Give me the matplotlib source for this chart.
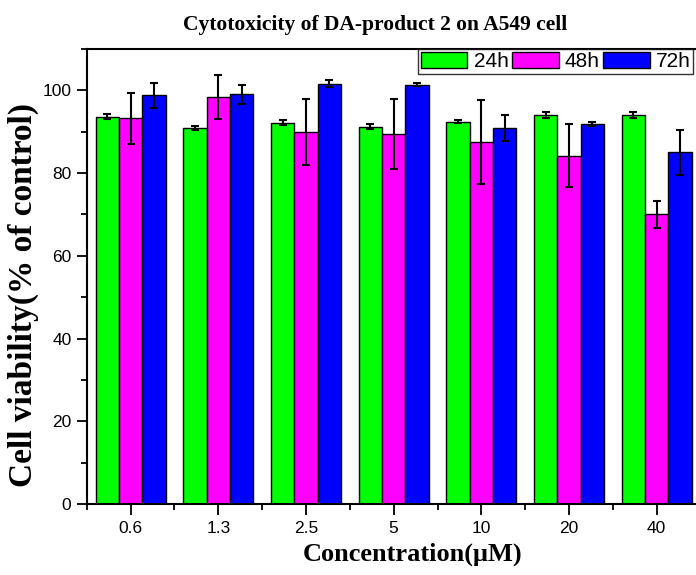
import matplotlib
matplotlib.use("Agg")
import matplotlib.pyplot as plt
import numpy as np
from matplotlib.ticker import MultipleLocator, FixedLocator

categories = ["0.6", "1.3", "2.5", "5", "10", "20", "40"]
series_names = ["24h", "48h", "72h"]
v24 = [93.6, 90.9, 92.2, 91.2, 92.4, 94.1, 94.1]
e24 = [0.6, 0.4, 0.6, 0.6, 0.4, 0.7, 0.7]
v48 = [93.2, 98.4, 89.9, 89.4, 87.5, 84.2, 70.0]
e48 = [6.1, 5.4, 7.9, 8.4, 10.2, 7.6, 3.2]
v72 = [98.8, 99.0, 101.6, 101.4, 90.9, 91.8, 85.0]
e72 = [3.0, 2.3, 0.9, 0.4, 3.1, 0.5, 5.4]
colors = ["#00ff00", "#ff00ff", "#0000ff"]

plt.rcParams['font.family'] = ['Liberation Sans', 'DejaVu Sans']

fig = plt.figure(figsize=(6.96, 5.75), dpi=100)
ax = fig.add_axes([0.1246, 0.1235, 0.882, 0.7913])

x = np.arange(len(categories))
w = 0.266
vals = [v24, v48, v72]
errs = [e24, e48, e72]
for i in range(3):
    ax.bar(x + (i - 1) * w, vals[i], width=w, color=colors[i], edgecolor='black',
           linewidth=1.0, label=series_names[i], zorder=2)
    ax.errorbar(x + (i - 1) * w, vals[i], yerr=errs[i], fmt='none', ecolor='black',
                elinewidth=1.5, capsize=3.2, capthick=1.5, zorder=3)

ax.set_xlim(-0.5, len(categories) - 0.5)
ax.set_ylim(0, 110)
ax.set_xticks(x)
ax.set_xticklabels(categories)
ax.xaxis.set_minor_locator(FixedLocator(np.arange(-0.5, len(categories), 1.0)))
ax.yaxis.set_major_locator(MultipleLocator(20))
ax.yaxis.set_minor_locator(MultipleLocator(10))
ax.tick_params(axis='both', which='major', direction='out', length=7, width=1.3,
               labelsize=12.5, pad=4)
ax.tick_params(axis='x', which='major', length=8)
ax.tick_params(axis='both', which='minor', direction='out', length=4.5, width=1.3)
for s in ax.spines.values():
    s.set_linewidth(1.5)

ax.set_title("Cytotoxicity of DA-product 2 on A549 cell", fontsize=15.5,
             fontweight='bold', family='Liberation Serif', x=0.4696, pad=14)
ax.set_ylabel("Cell viability(% of control)", fontsize=24, fontweight='bold',
              family='Liberation Serif')
ax.yaxis.set_label_coords(-0.078, 0.46)
ax.set_xlabel("Concentration(μM)", fontsize=19, fontweight='bold',
              family='Liberation Serif')
ax.xaxis.set_label_coords(0.5315, -0.085)

leg = ax.legend(ncol=3, loc='upper left', bbox_to_anchor=(418 / 696, 1 - 49 / 575),
                bbox_transform=fig.transFigure, fontsize=15, frameon=True,
                fancybox=False, edgecolor='black', handlelength=2.25,
                handleheight=0.86, handletextpad=0.3, columnspacing=0.15,
                borderpad=0.12, borderaxespad=0.0)
leg.get_frame().set_linewidth(1.0)

fig.savefig("out.png", dpi=100)
